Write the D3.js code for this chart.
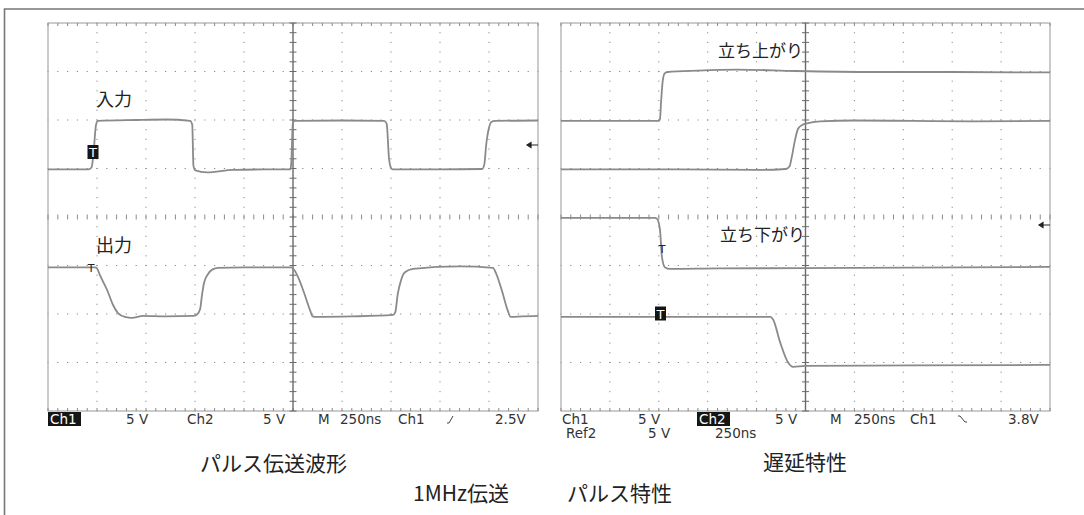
<!DOCTYPE html>
<html>
<head>
<meta charset="utf-8">
<script src="https://cdn.jsdelivr.net/npm/d3@7"></script>
<style>
  body { margin: 0; background: #fff; }
  svg { display: block; }
  .jp { font-family: "Noto Sans CJK JP", "Noto Sans", sans-serif; fill: #222; }
  .scope { font-family: "DejaVu Sans", Verdana, sans-serif; font-size: 13.5px; fill: #333; }
</style>
</head>
<body>
<svg id="chart"></svg>
<script>
// time base 250 ns/div (10 div), vertical 5 V/div (8 div), values relative to screen centre
const timeDomain = [0, 2500];
const voltDomain = [-20, 20];

// left scope: pulse transmission, [ns, V]
const inputPulse = [[0,4.9],[150,4.9],[205,4.9],[222,5.1],[232,6.5],[245,9.5],[255,9.9],[450,10.0],[600,10.05],[725,9.9],[736,9.5],[742,5.3],[752,4.8],[811,4.6],[944,4.85],[1100,4.9],[1236,4.9],[1241,5.5],[1249,9.6],[1256,9.9],[1500,9.95],[1715,9.9],[1728,9.6],[1740,6.0],[1752,5.0],[1760,4.9],[2000,4.9],[2215,4.95],[2226,5.4],[2236,7.5],[2250,9.2],[2262,9.8],[2280,9.9],[2500,9.95]];
const outputPulse = [[0,-5.2],[150,-5.2],[240,-5.2],[250,-5.3],[265,-6.0],[301,-7.5],[332,-9.07],[357,-9.9],[393,-10.3],[408,-10.35],[429,-10.4],[485,-10.2],[600,-10.25],[740,-10.2],[760,-10.05],[776,-9.5],[786,-8.0],[796,-6.8],[816,-5.9],[840,-5.4],[867,-5.25],[1000,-5.2],[1240,-5.2],[1250,-5.3],[1276,-6.2],[1301,-7.5],[1337,-9.6],[1350,-10.25],[1365,-10.3],[1550,-10.25],[1760,-10.1],[1772,-9.8],[1784,-8.0],[1800,-6.6],[1821,-5.7],[1862,-5.35],[2102,-5.1],[2270,-5.25],[2286,-5.8],[2316,-7.6],[2345,-9.6],[2360,-10.3],[2420,-10.25],[2500,-10.2]];

// right scope: delay, [ns, V]
const riseIn = [[0,9.9],[300,9.9],[500,9.9],[506,10.1],[512,12.0],[520,14.0],[530,14.8],[545,14.95],[700,15.1],[900,15.2],[1200,15.05],[1600,14.95],[2000,14.95],[2500,14.9]];
const riseOut = [[0,4.9],[600,4.9],[1000,4.85],[1150,4.95],[1168,5.2],[1180,6.2],[1196,7.9],[1212,9.1],[1235,9.5],[1258,9.65],[1324,9.85],[1500,9.95],[1800,9.9],[2100,9.85],[2500,9.9]];
const fallIn = [[0,-0.1],[480,-0.1],[491,-0.2],[506,-1.3],[516,-4.1],[532,-5.2],[557,-5.35],[800,-5.3],[1500,-5.25],[2500,-5.15]];
const fallOut = [[0,-10.3],[800,-10.3],[1070,-10.3],[1085,-10.6],[1120,-12.9],[1161,-15.0],[1186,-15.45],[1247,-15.35],[1800,-15.3],[2500,-15.25]];

const leftReadout = [["Ch1",50,true],["5 V",126],["Ch2",187],["5 V",263],["M",318],["250ns",340],["Ch1",398],["2.5V",495]];
const rightReadout = [["Ch1",562],["5 V",638],["Ch2",699,true],["5 V",775],["M",830],["250ns",854],["Ch1",910],["3.8V",1008]];
const rightReadout2 = [["Ref2",566],["5 V",648],["250ns",715]];

const W = 1084, H = 515;
const svg = d3.select("#chart").attr("width", W).attr("height", H);
svg.append("rect").attr("width", W).attr("height", H).attr("fill", "#fff");

// outer frame
svg.append("path").attr("d", `M4.5,${H} V9 H${W}`)
  .attr("fill", "none").attr("stroke", "#777").attr("stroke-width", 1.6);

const y = d3.scaleLinear(voltDomain, [411, 23]);
const xL = d3.scaleLinear(timeDomain, [48, 538]);
const xR = d3.scaleLinear(timeDomain, [561, 1050]);

function drawScope(x) {
  const g = svg.append("g");
  const majX = d3.range(0, 2501, 250), minX = d3.range(0, 2501, 50);
  const majY = d3.range(-20, 21, 5), minY = d3.range(-20, 21, 1);
  const dots = g.append("g").attr("fill", "#8a8a8a");
  // dotted vertical grid
  majX.filter(t => t > 0 && t < 2500 && t !== 1250).forEach(t => {
    minY.forEach(v => dots.append("rect").attr("x", x(t) - 0.5).attr("y", y(v) - 0.6).attr("width", 1).attr("height", 1.2));
  });
  // dotted horizontal grid
  majY.filter(v => v > -20 && v < 20 && v !== 0).forEach(v => {
    minX.forEach(t => dots.append("rect").attr("x", x(t) - 0.6).attr("y", y(v) - 0.5).attr("width", 1.2).attr("height", 1));
  });
  // frame
  g.append("rect").attr("x", x(0)).attr("y", y(20))
    .attr("width", x(2500) - x(0)).attr("height", y(-20) - y(20))
    .attr("fill", "none").attr("stroke", "#b0b0b0").attr("stroke-width", 1.3);
  const ticks = g.append("g").attr("stroke", "#8a8a8a").attr("stroke-width", 1);
  minX.forEach(t => {
    ticks.append("line").attr("x1", x(t)).attr("x2", x(t)).attr("y1", y(20)).attr("y2", y(20) + 3);
    ticks.append("line").attr("x1", x(t)).attr("x2", x(t)).attr("y1", y(-20)).attr("y2", y(-20) - 3);
    ticks.append("line").attr("x1", x(t)).attr("x2", x(t)).attr("y1", y(0) - 2.5).attr("y2", y(0) + 2.5);
  });
  // centre vertical axis
  g.append("line").attr("x1", x(1250)).attr("x2", x(1250)).attr("y1", y(20)).attr("y2", y(-20))
    .attr("stroke", "#6a6a6a").attr("stroke-width", 1.4);
  minY.forEach(v => g.append("line").attr("x1", x(1250) - 3.5).attr("x2", x(1250) + 3.5)
    .attr("y1", y(v)).attr("y2", y(v)).attr("stroke", "#6a6a6a").attr("stroke-width", 1));
  return g;
}

function trace(x, data) {
  const line = d3.line().x(d => x(d[0])).y(d => y(d[1])).curve(d3.curveMonotoneX);
  svg.append("path").datum(data).attr("d", line)
    .attr("fill", "none").attr("stroke", "#8a8a8a").attr("stroke-width", 1.8);
}

function readout(items, yb) {
  items.forEach(([t, xp, inv]) => {
    if (inv) svg.append("rect").attr("x", xp - 2).attr("y", yb - 12).attr("width", 33).attr("height", 14).attr("fill", "#151515");
    svg.append("text").attr("class", "scope").attr("x", xp).attr("y", yb)
      .style("fill", inv ? "#fff" : null).text(t);
  });
}

function tBox(xp, yp) {
  svg.append("rect").attr("x", xp - 5.5).attr("y", yp - 7).attr("width", 11).attr("height", 14).attr("fill", "#151515");
  svg.append("text").attr("class", "scope").attr("x", xp).attr("y", yp + 5)
    .attr("text-anchor", "middle").style("fill", "#fff").style("font-size", "13px").text("T");
}
function tMark(xp, yp) {
  svg.append("text").attr("class", "scope").attr("x", xp).attr("y", yp)
    .attr("text-anchor", "middle").style("font-size", "11px").style("fill", "#222").text("T");
}
function arrow(xp, yp) {
  svg.append("path").attr("d", `M${xp},${yp} h11 M${xp},${yp} l4,-2.5 v5 z`)
    .attr("stroke", "#222").attr("fill", "#222").attr("stroke-width", 1.2);
}

drawScope(xL);
drawScope(xR);
trace(xL, inputPulse);
trace(xL, outputPulse);
trace(xR, riseIn);
trace(xR, riseOut);
trace(xR, fallIn);
trace(xR, fallOut);

// labels on screens
const jpLabel = (t, xp, yp, fs) => svg.append("text").attr("class", "jp").attr("x", xp).attr("y", yp).style("font-size", fs + "px").text(t);
jpLabel("入力", 96, 106, 18);
jpLabel("出力", 96, 252, 18);
jpLabel("立ち上がり", 718, 57, 17);
jpLabel("立ち下がり", 720, 241, 17);

tBox(93, 152);
tMark(91, 272);
tBox(660.5, 313.5);
tMark(662, 253);
arrow(527, 145);
arrow(1039, 225);

readout(leftReadout, 424);
readout(rightReadout, 424);
readout(rightReadout2, 438);

// trigger slope icons
svg.append("path").attr("d", "M447,423 h2 l4,-7").attr("fill", "none").attr("stroke", "#444").attr("stroke-width", 1);
svg.append("path").attr("d", "M958,416 h2 l5,6 h2").attr("fill", "none").attr("stroke", "#444").attr("stroke-width", 1);

// captions
jpLabel("パルス伝送波形", 200, 471, 21);
jpLabel("遅延特性", 763, 470, 21);
jpLabel("1MHz伝送", 413, 501, 21);
jpLabel("パルス特性", 567, 501, 21);
</script>
</body>
</html>
